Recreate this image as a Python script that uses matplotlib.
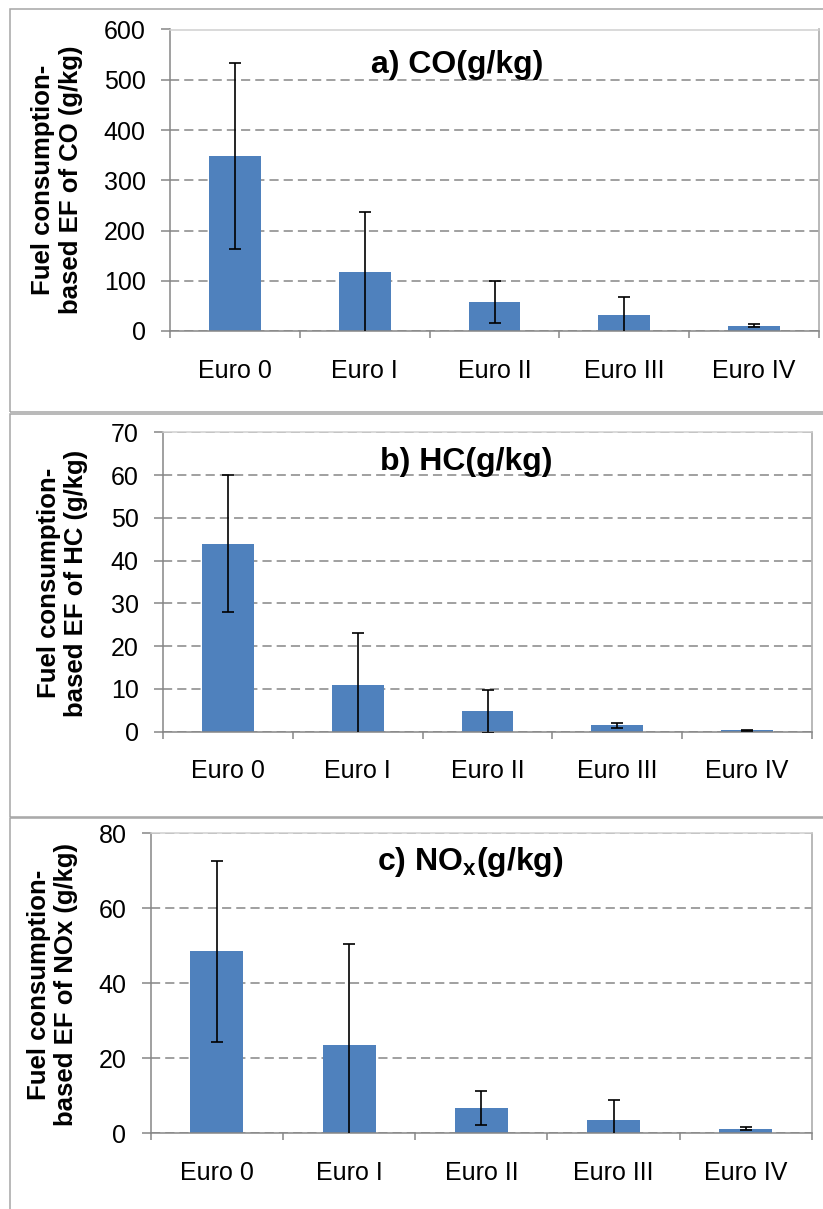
import matplotlib
matplotlib.use("Agg")
import matplotlib.pyplot as plt
import numpy as np
from matplotlib.patches import Rectangle

plt.rcParams['font.family'] = ['Liberation Sans', 'DejaVu Sans']
plt.rcParams['mathtext.fontset'] = 'custom'
plt.rcParams['mathtext.rm'] = 'Liberation Sans'
plt.rcParams['mathtext.bf'] = 'Liberation Sans:bold'

categories = ['Euro 0', 'Euro I', 'Euro II', 'Euro III', 'Euro IV']

co = [348, 117, 58, 32, 10]
co_err = [185, 120, 42, 36, 3]

hc = [44, 11, 4.8, 1.5, 0.3]
hc_err = [16, 12, 5, 0.6, 0.15]

nox = [48.5, 23.5, 6.8, 3.6, 1.15]
nox_err = [24.2, 27, 4.6, 5.4, 0.4]

titles = ['a) CO(g/kg)', 'b) HC(g/kg)', r'c) NO$_{\mathbf{x}}$(g/kg)']
ylabels = ['Fuel consumption-\nbased EF of CO (g/kg)',
           'Fuel consumption-\nbased EF of HC (g/kg)',
           'Fuel consumption-\nbased EF of NOx (g/kg)']
yticks = [np.arange(0, 601, 100), np.arange(0, 71, 10), np.arange(0, 81, 20)]

W, H = 823, 1209
fig = plt.figure(figsize=(W / 100, H / 100), dpi=100)

# pixel layout of each panel: axes box (l, t, r, b), title centre, ylabel centre, frame (t, b)
axes_px = [(170, 29.5, 819, 331), (163, 432.3, 812, 731.7), (150.7, 833.3, 812, 1133.3)]
title_px = [(457, 65), (466, 462), (470, 862)]
ylab_px = [(57, 180), (62.5, 583), (52.5, 985)]
frame_px = [(9, 412), (414, 817), (818, 1230)]

BLUE = '#4F81BD'
AXGRAY = '#868686'

series = [(co, co_err), (hc, hc_err), (nox, nox_err)]
x = np.arange(len(categories))

for i, (vals, errs) in enumerate(series):
    # panel frame
    ft, fb = frame_px[i]
    fig.patches.append(Rectangle((10 / W, 1 - fb / H), 1.0, (fb - ft) / H,
                                 transform=fig.transFigure, fill=False,
                                 edgecolor='#A6A6A6', lw=1.1, zorder=0))

    l, t, r, b = axes_px[i]
    ax = fig.add_axes([l / W, 1 - b / H, (r - l) / W, (b - t) / H])
    ax.bar(x, vals, width=0.4, color=BLUE, zorder=2)
    ax.errorbar(x, vals, yerr=errs, fmt='none', ecolor='black',
                elinewidth=1.2, capsize=4, capthick=1.2, zorder=3)

    ax.set_xlim(-0.5, len(categories) - 0.5)
    ax.set_ylim(yticks[i][0], yticks[i][-1])
    ax.set_yticks(yticks[i])
    ax.set_xticks(x)
    ax.set_xticklabels(categories)
    ax.set_xticks(np.arange(-0.5, len(categories), 1.0), minor=True)

    ax.yaxis.grid(True, color=AXGRAY, lw=1.1, linestyle=(0, (6, 3.3)), zorder=1)
    ax.set_axisbelow(True)

    ax.tick_params(axis='y', length=6.5, width=1.1, color=AXGRAY,
                   labelsize=18, pad=11)
    ax.tick_params(axis='x', which='major', length=0, labelsize=18, pad=20)
    ax.tick_params(axis='x', which='minor', length=5, width=1.1, color=AXGRAY)

    ax.spines['left'].set_color(AXGRAY)
    ax.spines['bottom'].set_color(AXGRAY)
    ax.spines['left'].set_linewidth(1.1)
    ax.spines['bottom'].set_linewidth(1.1)
    ax.spines['right'].set_color('#A6A6A6')
    ax.spines['right'].set_linewidth(1.1)
    ax.spines['top'].set_color('#D0D0D0')
    ax.spines['top'].set_linewidth(1.1)

    tx, ty = title_px[i]
    fig.text(tx / W, 1 - ty / H, titles[i], ha='center', va='center',
             fontsize=23, fontweight='bold')

    lx, ly = ylab_px[i]
    fig.text(lx / W, 1 - ly / H, ylabels[i], ha='center', va='center',
             rotation=90, fontsize=18.5, fontweight='bold', linespacing=1.2)

fig.savefig('out.png', dpi=100)
